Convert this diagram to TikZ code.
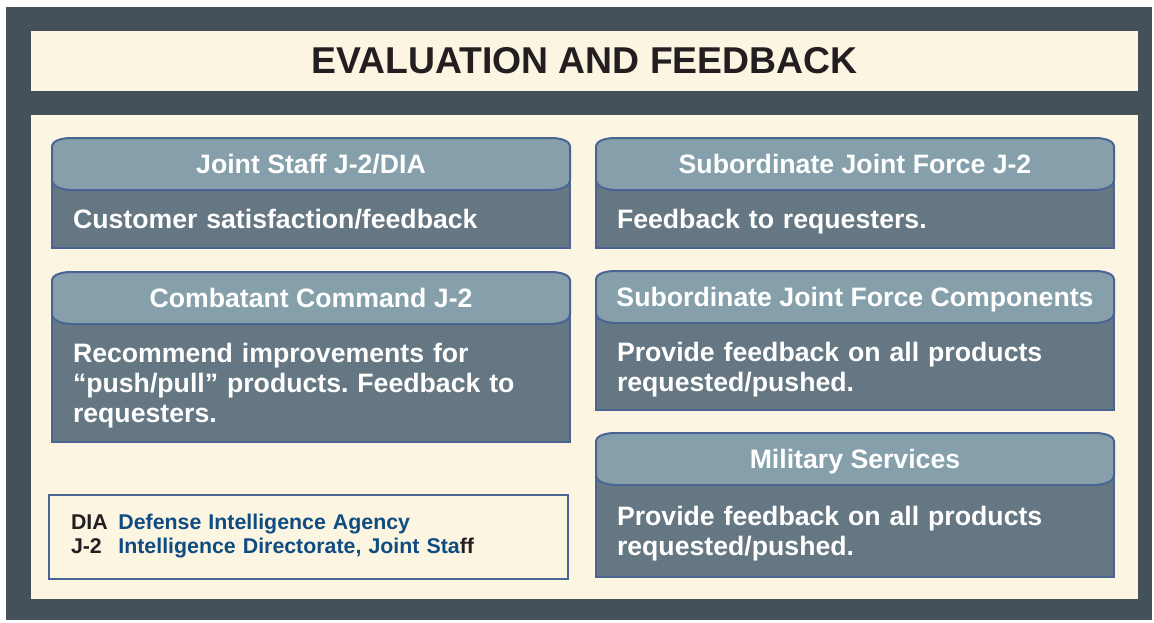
\documentclass[tikz,border=0pt]{standalone}
\usepackage{fontspec}
\setmainfont{Liberation Sans}
\usepackage{xcolor}
\usetikzlibrary{positioning,calc}

\definecolor{framegray}{HTML}{44515A}
\definecolor{cream}{HTML}{FBF5E2}
\definecolor{headgray}{HTML}{85A0AB}
\definecolor{bodygray}{HTML}{647782}
\definecolor{edgeblue}{HTML}{4A6494}
\definecolor{inkblack}{HTML}{231F20}
\definecolor{legendblue}{HTML}{0F4C81}

\frenchspacing

\begin{document}
\begin{tikzpicture}[
    x=0.75pt, y=-0.75pt,
    titlebar/.style={rectangle, fill=cream, text=inkblack, minimum width=830.25pt, minimum height=45pt,
        font=\bfseries\fontsize{28}{30}\selectfont},
    body/.style={rectangle, fill=bodygray, text=white, anchor=north west, outer sep=0pt,
        minimum width=388.5pt, text width=357pt, inner xsep=15.75pt, inner ysep=0pt, align=left,
        font=\bfseries\fontsize{20}{22.5}\selectfont},
    edge/.style={draw=edgeblue, line width=1.5pt},
    head/.style={edge, fill=headgray, line join=round},
    headtext/.style={text=white, text depth=0pt, font=\bfseries\fontsize{20}{22.5}\selectfont},
    legend/.style={rectangle, edge, fill=cream, anchor=north west, minimum width=389.25pt, minimum height=63pt,
        text width=356.25pt, inner xsep=16.5pt, align=left, text=inkblack, font=\bfseries\fontsize{16}{18}\selectfont}
]
    \useasboundingbox (0,0) rectangle (1154,622);
    \fill[framegray] (6,7) rectangle (1152,620);
    \node[titlebar] (title) at (584.5,61) {EVALUATION AND FEEDBACK};
    \fill[cream] (31,115) rectangle (1138,599);

    % panel bodies
    \node[body, minimum height=43.5pt, text depth=0pt] (js) at (52,190) {Customer satisfaction/feedback};
    \node[body, minimum height=88.5pt, text depth=45pt, below=57pt of js] (cc) {Recommend improvements for\\
        “push/pull” products. Feedback to\\ requesters.};
    \node[body, minimum height=43.5pt, text depth=0pt, right=19.5pt of js] (sj) {Feedback to requesters.};
    \node[body, minimum height=65.25pt, text depth=22.5pt, below=56.25pt of sj] (sc) {Provide feedback on all products\\ requested/pushed.};
    \node[body, minimum height=69pt, text depth=22.5pt, below=56.25pt of sc] (ms) {Provide feedback on all products\\ requested/pushed.};

    % outlines and header caps
    \foreach \n in {js,cc,sj,sc,ms} {
        \fill[bodygray] (\n.north west) rectangle ([yshift=8pt]\n.north east);
        \draw[edge] ([yshift=8pt]\n.north west) -- (\n.south west) -- (\n.south east) -- ([yshift=8pt]\n.north east);
        \draw[head] ([yshift=7pt]\n.north west) -- ([yshift=33pt]\n.north west)
            arc[start angle=180, end angle=90, x radius=14pt, y radius=6pt]
            -- ([shift={(-14pt,39pt)}]\n.north east)
            arc[start angle=90, end angle=0, x radius=14pt, y radius=6pt]
            -- ([yshift=7pt]\n.north east)
            arc[start angle=0, end angle=-90, x radius=15pt, y radius=7pt]
            -- ([xshift=15pt]\n.north west)
            arc[start angle=270, end angle=180, x radius=15pt, y radius=7pt]
            -- cycle;
    }

    \node[headtext] (jsHead) at ([yshift=19.5pt]js.north) {Joint Staff J-2/DIA};
    \node[headtext] (ccHead) at ([yshift=19.5pt]cc.north) {Combatant Command J-2};
    \node[headtext] (sjHead) at ([yshift=19.5pt]sj.north) {Subordinate Joint Force J-2};
    \node[headtext] (scHead) at ([yshift=19.5pt]sc.north) {Subordinate Joint Force Components};
    \node[headtext] (msHead) at ([yshift=19.5pt]ms.north) {Military Services};

    % abbreviations
    \node[legend] (abbr) at (48,494) {\begin{tabular}{@{}l@{\hspace{8pt}}l@{}}
        DIA & \textcolor{legendblue}{Defense Intelligence Agency}\\
        J-2 & \textcolor{legendblue}{Intelligence Directorate, Joint Sta}ff
    \end{tabular}};
\end{tikzpicture}
\end{document}
